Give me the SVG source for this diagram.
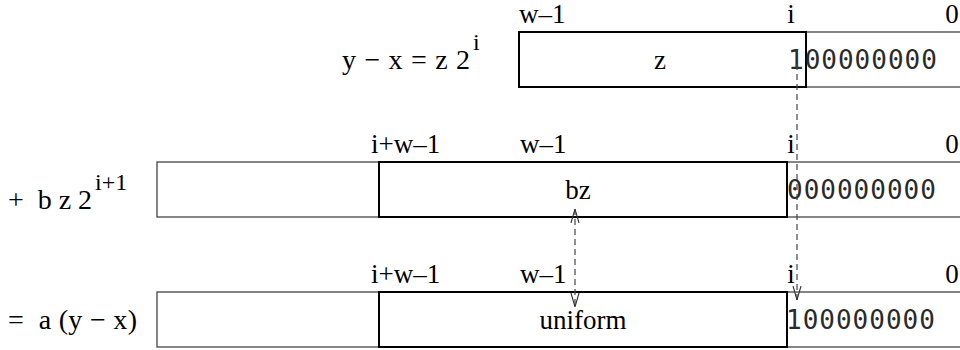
<svg xmlns="http://www.w3.org/2000/svg" width="960" height="350" viewBox="0 0 960 350">
<style>
.t{font-family:"Liberation Serif","Times New Roman",serif;font-size:27px;fill:#000}
.lb{font-family:"Liberation Serif","Times New Roman",serif;font-size:28px;fill:#000}
.sup{font-family:"Liberation Serif","Times New Roman",serif;font-size:24px;fill:#000}
.d{font-family:"DejaVu Sans Mono","Liberation Mono",monospace;font-size:26px;letter-spacing:1px;fill:#2a2a2a}
.thin{fill:none;stroke:#444;stroke-width:1.3}
.thick{fill:none;stroke:#000;stroke-width:2}
.dash{fill:none;stroke:#444;stroke-width:1.2;stroke-dasharray:6 4}
</style>
<defs>
<marker id="ah" viewBox="0 0 14 10" refX="14" refY="5" markerWidth="14" markerHeight="10" markerUnits="userSpaceOnUse" orient="auto-start-reverse">
<path d="M0,1 L14,5 L0,9" fill="none" stroke="#333" stroke-width="1.1"/>
</marker>
</defs>
<g id="row1">
<text class="lb" x="342" y="69" textLength="128" lengthAdjust="spacing">y − x = z 2</text>
<text class="sup" x="473" y="50">i</text>
<rect class="thin" x="806" y="32" width="200" height="55"/>
<rect class="thick" x="519" y="32" width="287" height="55"/>
<text class="t" x="519" y="23">w–1</text>
<text class="t" x="791" y="23" text-anchor="middle">i</text>
<text class="t" x="952" y="23" text-anchor="middle">0</text>
<text class="t" x="660" y="69" text-anchor="middle">z</text>
<text class="d" x="788" y="69">100000000</text>
</g>
<g id="row2">
<text class="lb" x="8" y="209" textLength="84" lengthAdjust="spacing">+ &#160;b z 2</text>
<text class="sup" x="95" y="190">i+1</text>
<rect class="thin" x="157" y="162" width="222" height="55"/>
<rect class="thin" x="787" y="162" width="220" height="55"/>
<rect class="thick" x="379" y="162" width="408" height="55"/>
<text class="t" x="371" y="153">i+w–1</text>
<text class="t" x="520" y="153">w–1</text>
<text class="t" x="791" y="153" text-anchor="middle">i</text>
<text class="t" x="952" y="153" text-anchor="middle">0</text>
<text class="t" x="578" y="199" text-anchor="middle">bz</text>
<text class="d" x="787" y="199">000000000</text>
</g>
<g id="row3">
<text class="lb" x="8" y="329" textLength="129" lengthAdjust="spacing">= &#160;a (y − x)</text>
<rect class="thin" x="157" y="292" width="222" height="55"/>
<rect class="thin" x="787" y="292" width="220" height="55"/>
<rect class="thick" x="379" y="292" width="408" height="55"/>
<text class="t" x="371" y="283">i+w–1</text>
<text class="t" x="520" y="283">w–1</text>
<text class="t" x="791" y="283" text-anchor="middle">i</text>
<text class="t" x="952" y="283" text-anchor="middle">0</text>
<text class="t" x="583" y="329" text-anchor="middle">uniform</text>
<text class="d" x="786" y="329">100000000</text>
</g>
<g id="connectors">
<line class="dash" x1="797" y1="64" x2="797" y2="300" marker-end="url(#ah)"/>
<line class="dash" x1="575" y1="209" x2="575" y2="307" marker-start="url(#ah)" marker-end="url(#ah)"/>
</g>
</svg>
